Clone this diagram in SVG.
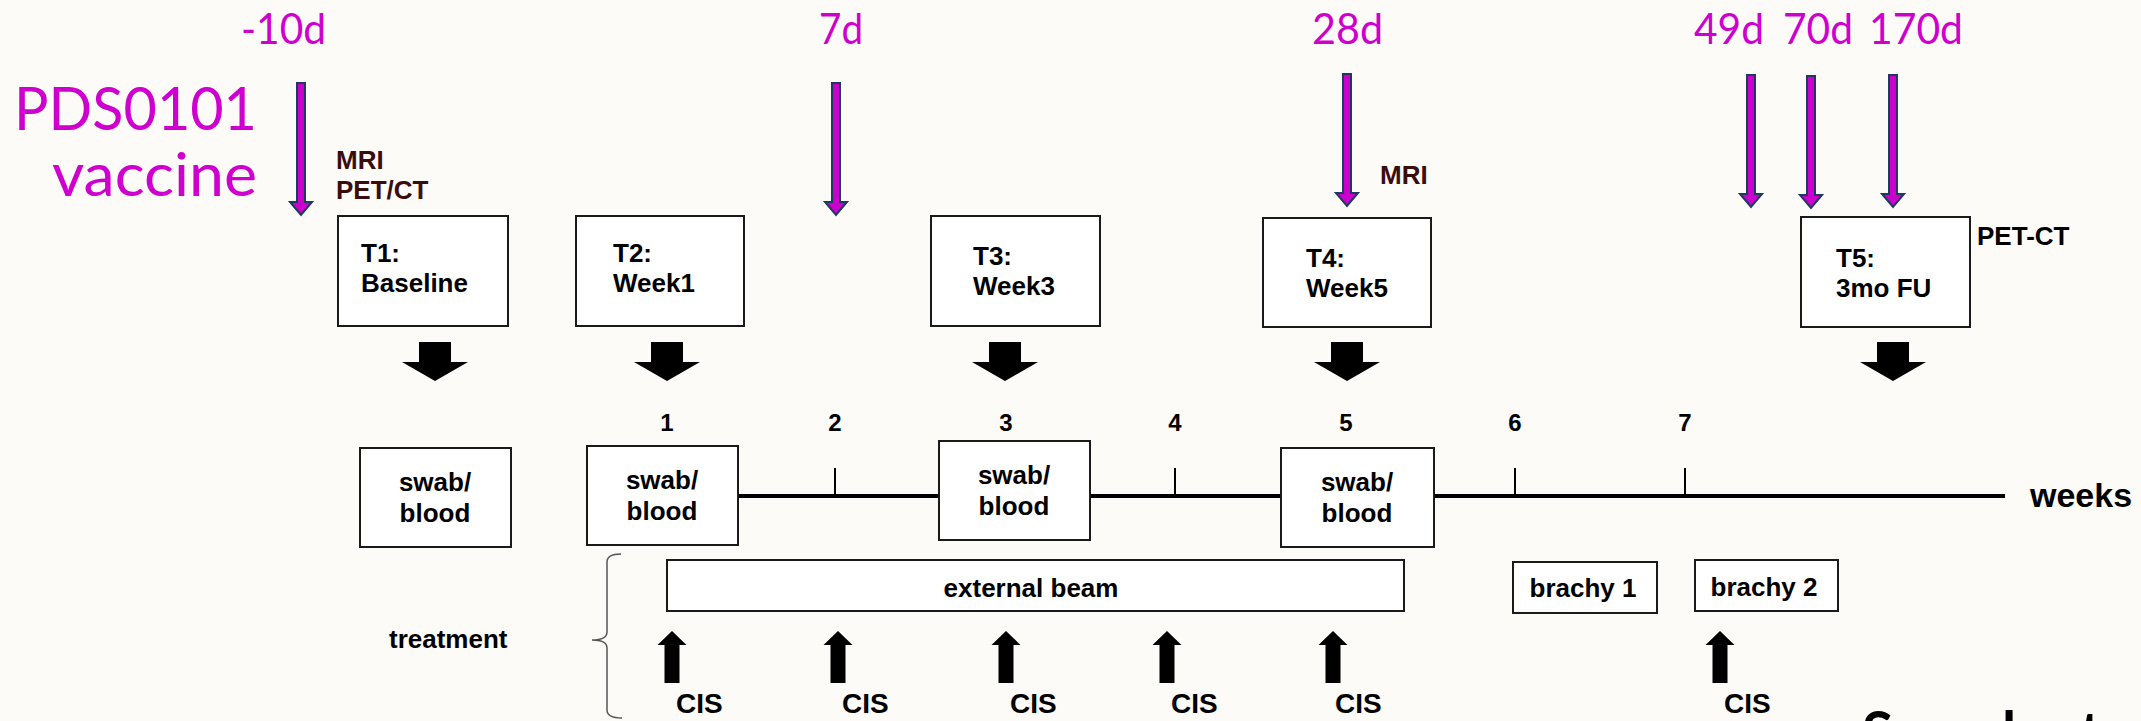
<svg xmlns="http://www.w3.org/2000/svg" xmlns:xlink="http://www.w3.org/1999/xlink" width="2141" height="721" viewBox="0 0 2141 721">
<style>
.box{fill:#fff;stroke:#1a1a1a;stroke-width:2}
.lbl{font-family:"Liberation Sans",Arial,sans-serif;font-weight:bold;font-size:26px;fill:#000}
.mid{text-anchor:middle}
.wk{font-size:24px}
.cis{font-size:28px}
.weeks{font-size:34px}
.mag{font-family:Lato,"Open Sans",sans-serif;fill:#cf00cf}
.num{font-size:42px}
.big{font-size:60px}
.mri{fill:#3a0d0d}
.line{stroke:#000;fill:none}
</style>
<defs>
<path id="varrow" d="M-4,-132 L4,-132 L4,-13 L11,-13 L0,0 L-11,-13 L-4,-13 Z" fill="#cc00cc" stroke="#1f3a60" stroke-width="2"/>
<path id="darrow" d="M-16,-39 H16 V-19 H33 L0,0 L-33,-19 H-16 Z" fill="#000"/>
<path id="uarrow" d="M0,0 L14.5,14 H7.5 V52 H-7.5 V14 H-14.5 Z" fill="#000"/>
</defs>
<rect width="2141" height="721" fill="#fcfbf8"/>

<g id="vaccine-labels">
<text class="mag big" x="257" y="130" text-anchor="end" textLength="243" lengthAdjust="spacingAndGlyphs">PDS0101</text>
<text class="mag big" x="257" y="196" text-anchor="end" textLength="205" lengthAdjust="spacingAndGlyphs">vaccine</text>
<text class="mag num" x="241" y="44" textLength="85" lengthAdjust="spacingAndGlyphs">-10d</text>
<text class="mag num" x="819" y="44" textLength="44" lengthAdjust="spacingAndGlyphs">7d</text>
<text class="mag num" x="1312" y="44" textLength="71" lengthAdjust="spacingAndGlyphs">28d</text>
<text class="mag num" x="1694" y="44" textLength="70" lengthAdjust="spacingAndGlyphs">49d</text>
<text class="mag num" x="1783" y="44" textLength="70" lengthAdjust="spacingAndGlyphs">70d</text>
<text class="mag num" x="1869" y="44" textLength="94" lengthAdjust="spacingAndGlyphs">170d</text>
</g>

<g id="imaging-labels">
<text class="lbl mri" x="336" y="169">MRI</text>
<text class="lbl mri" x="336" y="199">PET/CT</text>
<text class="lbl mri" x="1380" y="184">MRI</text>
<text class="lbl" x="1977" y="245">PET-CT</text>
</g>

<g id="connectors">
<use xlink:href="#varrow" x="301" y="215"/>
<use xlink:href="#varrow" x="836" y="215"/>
<use xlink:href="#varrow" x="1347" y="206"/>
<use xlink:href="#varrow" x="1751" y="207"/>
<use xlink:href="#varrow" x="1811" y="208"/>
<use xlink:href="#varrow" x="1893" y="207"/>
<use xlink:href="#darrow" x="435" y="381"/>
<use xlink:href="#darrow" x="667" y="381"/>
<use xlink:href="#darrow" x="1005" y="381"/>
<use xlink:href="#darrow" x="1347" y="381"/>
<use xlink:href="#darrow" x="1893" y="381"/>
<line class="line" x1="738" y1="496" x2="2005" y2="496" stroke-width="4"/>
<g class="line" stroke-width="2">
<line x1="835" y1="468" x2="835" y2="496"/>
<line x1="1175" y1="468" x2="1175" y2="496"/>
<line x1="1515" y1="468" x2="1515" y2="496"/>
<line x1="1685" y1="468" x2="1685" y2="496"/>
</g>
<use xlink:href="#uarrow" x="672" y="631"/>
<use xlink:href="#uarrow" x="838" y="631"/>
<use xlink:href="#uarrow" x="1006" y="631"/>
<use xlink:href="#uarrow" x="1167" y="631"/>
<use xlink:href="#uarrow" x="1333" y="631"/>
<use xlink:href="#uarrow" x="1720" y="631"/>
<path d="M621,554 Q607,554 607,562 V632 Q607,640 592,640 Q607,640 607,648 V710 Q607,718 622,718" fill="none" stroke="#555" stroke-width="1.5"/>
</g>

<g id="T1">
<rect class="box" x="338" y="216" width="170" height="110"/>
<text class="lbl" x="361" y="262">T1:</text>
<text class="lbl" x="361" y="292">Baseline</text>
</g>
<g id="T2">
<rect class="box" x="576" y="216" width="168" height="110"/>
<text class="lbl" x="613" y="262">T2:</text>
<text class="lbl" x="613" y="292">Week1</text>
</g>
<g id="T3">
<rect class="box" x="931" y="216" width="169" height="110"/>
<text class="lbl" x="973" y="265">T3:</text>
<text class="lbl" x="973" y="295">Week3</text>
</g>
<g id="T4">
<rect class="box" x="1263" y="218" width="168" height="109"/>
<text class="lbl" x="1306" y="267">T4:</text>
<text class="lbl" x="1306" y="297">Week5</text>
</g>
<g id="T5">
<rect class="box" x="1801" y="217" width="169" height="110"/>
<text class="lbl" x="1836" y="267">T5:</text>
<text class="lbl" x="1836" y="297">3mo FU</text>
</g>

<g id="week-numbers">
<text class="lbl wk mid" x="667" y="431">1</text>
<text class="lbl wk mid" x="835" y="431">2</text>
<text class="lbl wk mid" x="1006" y="431">3</text>
<text class="lbl wk mid" x="1175" y="431">4</text>
<text class="lbl wk mid" x="1346" y="431">5</text>
<text class="lbl wk mid" x="1515" y="431">6</text>
<text class="lbl wk mid" x="1685" y="431">7</text>
<text class="lbl weeks" x="2030" y="507">weeks</text>
</g>

<g id="swab1">
<rect class="box" x="360" y="448" width="151" height="99"/>
<text class="lbl mid" x="435" y="491">swab/</text>
<text class="lbl mid" x="435" y="522">blood</text>
</g>
<g id="swab2">
<rect class="box" x="587" y="446" width="151" height="99"/>
<text class="lbl mid" x="662" y="489">swab/</text>
<text class="lbl mid" x="662" y="520">blood</text>
</g>
<g id="swab3">
<rect class="box" x="939" y="441" width="151" height="99"/>
<text class="lbl mid" x="1014" y="484">swab/</text>
<text class="lbl mid" x="1014" y="515">blood</text>
</g>
<g id="swab4">
<rect class="box" x="1281" y="448" width="153" height="99"/>
<text class="lbl mid" x="1357" y="491">swab/</text>
<text class="lbl mid" x="1357" y="522">blood</text>
</g>

<g id="external-beam">
<rect class="box" x="667" y="560" width="737" height="51"/>
<text class="lbl mid" x="1031" y="597">external beam</text>
</g>
<g id="brachy1">
<rect class="box" x="1513" y="562" width="144" height="51"/>
<text class="lbl mid" x="1583" y="597">brachy 1</text>
</g>
<g id="brachy2">
<rect class="box" x="1695" y="560" width="143" height="51"/>
<text class="lbl mid" x="1764" y="596">brachy 2</text>
</g>

<g id="treatment">
<text class="lbl" x="389" y="648">treatment</text>
</g>

<g id="cis-labels">
<text class="lbl cis" x="676" y="713">CIS</text>
<text class="lbl cis" x="842" y="713">CIS</text>
<text class="lbl cis" x="1010" y="713">CIS</text>
<text class="lbl cis" x="1171" y="713">CIS</text>
<text class="lbl cis" x="1335" y="713">CIS</text>
<text class="lbl cis" x="1724" y="713">CIS</text>
</g>

<g id="footer">
<text font-family="Lato,'Open Sans',sans-serif" font-weight="bold" font-size="57" fill="#000" x="1862" y="753">Sample<tspan x="2080">t</tspan></text>
</g>
</svg>
